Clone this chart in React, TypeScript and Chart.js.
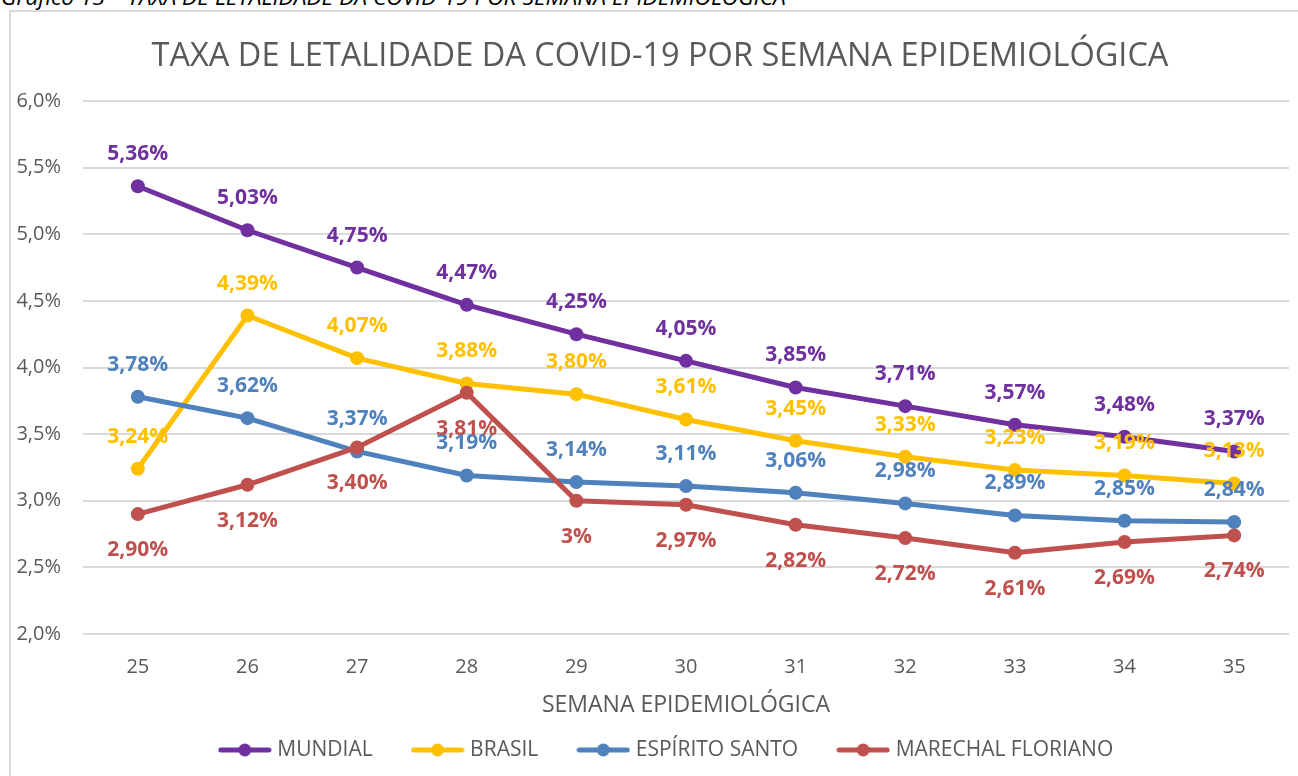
import React, { useEffect, useRef } from "react";
import { Chart, registerables } from "chart.js";

Chart.register(...registerables);

const weeks = ["25", "26", "27", "28", "29", "30", "31", "32", "33", "34", "35"];
const mundial = [5.36, 5.03, 4.75, 4.47, 4.25, 4.05, 3.85, 3.71, 3.57, 3.48, 3.37];
const brasil = [3.24, 4.39, 4.07, 3.88, 3.8, 3.61, 3.45, 3.33, 3.23, 3.19, 3.13];
const espiritoSanto = [3.78, 3.62, 3.37, 3.19, 3.14, 3.11, 3.06, 2.98, 2.89, 2.85, 2.84];
const marechalFloriano = [2.9, 3.12, 3.4, 3.81, 3.0, 2.97, 2.82, 2.72, 2.61, 2.69, 2.74];
const marechalLabels = ["2,90%", "3,12%", "3,40%", "3,81%", "3%", "2,97%", "2,82%", "2,72%", "2,61%", "2,69%", "2,74%"];

const seriesNames = ["MUNDIAL", "BRASIL", "ESPÍRITO SANTO", "MARECHAL FLORIANO"];
const seriesColors = ["#7030A0", "#FFC000", "#4F81BD", "#C0504D"];
const labelPlacement = ["above", "above", "above", "below"];

const chartTitle = "TAXA DE LETALIDADE DA COVID-19 POR SEMANA EPIDEMIOLÓGICA";
const xAxisTitle = "SEMANA EPIDEMIOLÓGICA";
const caption = "Gráfico 13 – TAXA DE LETALIDADE DA COVID-19 POR SEMANA EPIDEMIOLÓGICA";

const FONT = "'Open Sans', 'DejaVu Sans', sans-serif";

const fmt = (v: number) => v.toFixed(2).replace(".", ",") + "%";

function legendIcon(color: string) {
  const c = document.createElement("canvas");
  c.width = 54;
  c.height = 14;
  const ctx = c.getContext("2d")!;
  ctx.strokeStyle = color;
  ctx.lineWidth = 5;
  ctx.lineCap = "round";
  ctx.beginPath();
  ctx.moveTo(3, 7);
  ctx.lineTo(51, 7);
  ctx.stroke();
  ctx.fillStyle = color;
  ctx.beginPath();
  ctx.arc(27, 7, 6.5, 0, Math.PI * 2);
  ctx.fill();
  return c;
}

const dataLabelPlugin = {
  id: "dataLabels",
  afterDatasetsDraw(chart: any) {
    const ctx = chart.ctx;
    ctx.save();
    ctx.font = `bold 21px ${FONT}`;
    ctx.textAlign = "center";
    ctx.textBaseline = "middle";
    chart.data.datasets.forEach((ds: any, i: number) => {
      const meta = chart.getDatasetMeta(i);
      ctx.fillStyle = ds.borderColor;
      meta.data.forEach((pt: any, j: number) => {
        const label = ds.labelTexts ? ds.labelTexts[j] : fmt(ds.data[j]);
        const dy = labelPlacement[i] === "above" ? -32 : 36;
        ctx.fillText(label, pt.x, pt.y + dy);
      });
    });
    ctx.restore();
  },
};

// shift the centred title and legend to match the original frame's centring
const centringPlugin = {
  id: "centring",
  afterLayout(chart: any) {
    if (chart.legend) {
      chart.legend.left += 47;
    }
    if (chart.titleBlock) {
      chart.titleBlock.left += 31;
    }
  },
};

export default function App() {
  const ref = useRef<HTMLCanvasElement>(null);
  useEffect(() => {
    if (!ref.current) return;
    const allData = [mundial, brasil, espiritoSanto, marechalFloriano];
    const icons = seriesColors.map((c) => legendIcon(c));
    const chart = new Chart(ref.current, {
      type: "line",
      data: {
        labels: weeks,
        datasets: allData.map((d, i) => ({
          label: seriesNames[i],
          data: d,
          borderColor: seriesColors[i],
          backgroundColor: seriesColors[i],
          borderWidth: 5,
          pointRadius: 7,
          pointHoverRadius: 7,
          pointBackgroundColor: seriesColors[i],
          pointBorderWidth: 0,
          pointStyle: "circle",
          tension: 0,
          order: 3 - i,
          labelTexts: i === 3 ? marechalLabels : undefined,
        })) as any,
      },
      options: {
        animation: false,
        responsive: false,
        layout: { padding: { left: 0, right: 9, top: 0, bottom: 5.5 } },
        scales: {
          x: {
            offset: true,
            grid: { display: false, drawTicks: false },
            border: { display: false },
            ticks: { color: "#595959", font: { family: FONT, size: 20 }, padding: 21 },
            title: {
              display: true,
              text: xAxisTitle,
              color: "#595959",
              font: { family: FONT, size: 23 },
              padding: { top: -8.8, bottom: -22.3 },
            },
          },
          y: {
            min: 2,
            max: 6,
            grid: { color: "#d9d9d9", lineWidth: 2, drawTicks: false },
            border: { display: false },
            ticks: {
              stepSize: 0.5,
              color: "#595959",
              font: { family: FONT, size: 20 },
              padding: 22,
              callback: (v: any) => Number(v).toFixed(1).replace(".", ",") + "%",
            },
            afterFit: (s: any) => {
              s.width = 83;
            },
          },
        },
        plugins: {
          title: {
            display: true,
            text: chartTitle,
            color: "#595959",
            font: { family: FONT, size: 32.5, weight: "normal" },
            padding: { top: 37, bottom: 25 },
          },
          legend: {
            position: "bottom",
            labels: {
              usePointStyle: true,
              pointStyleWidth: 44,
              color: "#595959",
              font: { family: FONT, size: 21 },
              padding: 43,
              sort: (a: any, b: any) => a.datasetIndex - b.datasetIndex,
              generateLabels: (ch: any) =>
                (Chart.defaults.plugins.legend.labels as any)
                  .generateLabels(ch)
                  .map((l: any) => ({ ...l, pointStyle: icons[l.datasetIndex] })),
            },
          },
          tooltip: { enabled: false },
        },
      },
      plugins: [dataLabelPlugin, centringPlugin],
    });
    return () => chart.destroy();
  }, []);

  return (
    <div style={{ position: "absolute", left: 0, top: 0, width: 1298, height: 776, overflow: "hidden", background: "#fff" }}>
      <div
        style={{
          position: "absolute",
          left: 1,
          top: -16,
          fontFamily: FONT,
          fontStyle: "italic",
          fontSize: 22.7,
          color: "#000",
          whiteSpace: "nowrap",
          lineHeight: "26px",
        }}
      >
        {caption}
      </div>
      <div
        style={{
          position: "absolute",
          left: 9,
          top: 10,
          width: 1400,
          height: 900,
          border: "2px solid #d9d9d9",
        }}
      />
      <canvas ref={ref} width={1298} height={776} style={{ position: "absolute", left: 0, top: 0 }} />
    </div>
  );
}
